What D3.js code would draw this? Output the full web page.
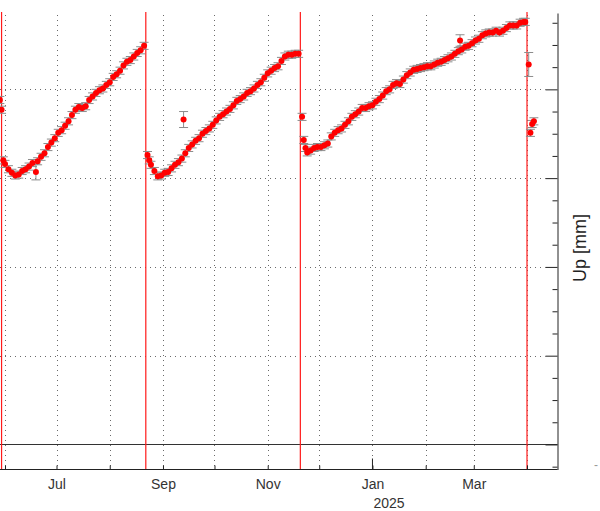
<!DOCTYPE html>
<html>
<head>
<meta charset="utf-8">
<script src="https://cdn.jsdelivr.net/npm/d3@7"></script>
<style>
  html, body { margin: 0; padding: 0; background: #fff; }
  svg { display: block; font-family: "Liberation Sans", Arial, Helvetica, sans-serif; }
</style>
</head>
<body>
<svg id="chart" width="600" height="511"></svg>
<script>
// ---------------- DATA ----------------
const seg1Dates = ["2024-05-29","2024-05-30","2024-05-31","2024-06-01","2024-06-03","2024-06-05","2024-06-07","2024-06-09","2024-06-11","2024-06-13","2024-06-15","2024-06-17","2024-06-20","2024-06-22","2024-06-24","2024-06-26","2024-06-28","2024-06-30","2024-07-02","2024-07-04","2024-07-06","2024-07-08","2024-07-10","2024-07-12","2024-07-14","2024-07-16","2024-07-18","2024-07-20","2024-07-22","2024-07-24","2024-07-26","2024-07-28","2024-07-30","2024-08-01","2024-08-03","2024-08-05","2024-08-07","2024-08-09","2024-08-11","2024-08-13","2024-08-15","2024-08-17","2024-08-19","2024-08-21"];
const seg1Up = [38.8,37.7,32.0,31.6,31.0,30.6,30.3,30.4,30.8,31.0,31.3,31.7,31.9,32.4,32.8,33.5,34.0,34.5,35.1,35.4,35.9,36.4,37.1,37.7,38.0,37.9,38.1,38.8,39.2,39.6,39.9,40.1,40.5,40.8,41.4,41.7,42.1,42.7,43.1,43.3,43.7,44.1,44.4,44.9];

const seg2Dates = ["2024-08-23","2024-08-24","2024-08-25","2024-08-27","2024-08-29","2024-08-31","2024-09-02","2024-09-04","2024-09-06","2024-09-08","2024-09-10","2024-09-12","2024-09-14","2024-09-16","2024-09-18","2024-09-20","2024-09-22","2024-09-24","2024-09-26","2024-09-28","2024-09-30","2024-10-02","2024-10-04","2024-10-06","2024-10-08","2024-10-10","2024-10-12","2024-10-14","2024-10-16","2024-10-18","2024-10-20","2024-10-22","2024-10-24","2024-10-26","2024-10-28","2024-10-30","2024-11-01","2024-11-03","2024-11-05","2024-11-07","2024-11-09","2024-11-11","2024-11-13","2024-11-15","2024-11-17","2024-11-19"];
const seg2Up = [32.6,32.0,31.5,30.8,30.2,30.3,30.6,30.7,31.1,31.5,31.8,32.2,32.8,33.4,33.8,34.2,34.5,35.0,35.3,35.6,36.0,36.5,36.9,37.2,37.5,37.8,38.2,38.7,38.9,39.2,39.6,39.8,40.1,40.5,40.8,41.3,41.8,42.1,42.4,42.6,43.2,43.7,43.9,43.9,44.0,44.0];

const seg3Dates = ["2024-11-21","2024-11-22","2024-11-23","2024-11-24","2024-11-26","2024-11-28","2024-11-30","2024-12-02","2024-12-04","2024-12-06","2024-12-08","2024-12-10","2024-12-12","2024-12-14","2024-12-16","2024-12-18","2024-12-20","2024-12-22","2024-12-24","2024-12-26","2024-12-28","2024-12-30","2025-01-01","2025-01-03","2025-01-05","2025-01-07","2025-01-09","2025-01-11","2025-01-13","2025-01-15","2025-01-17","2025-01-19","2025-01-21","2025-01-23","2025-01-25","2025-01-27","2025-01-29","2025-01-31","2025-02-02","2025-02-04","2025-02-06","2025-02-08","2025-02-10","2025-02-12","2025-02-14","2025-02-16","2025-02-18","2025-02-20","2025-02-22","2025-02-24","2025-02-26","2025-02-28","2025-03-02","2025-03-04","2025-03-06","2025-03-08","2025-03-10","2025-03-12","2025-03-14","2025-03-16","2025-03-18","2025-03-20","2025-03-22","2025-03-24","2025-03-26","2025-03-28","2025-03-30","2025-03-31"];
const seg3Up = [36.9,34.3,33.4,32.9,33.1,33.4,33.5,
  33.5,33.7,33.9,34.7,35.1,35.4,35.6,36.0,36.4,36.9,37.2,37.5,37.9,37.9,38.1,
  38.2,38.6,38.9,39.3,39.8,40.0,40.5,40.7,40.6,41.1,41.6,41.9,42.2,42.3,42.4,42.5,
  42.6,42.6,42.8,43.0,43.1,43.3,43.5,43.7,44.0,44.3,44.5,44.8,44.9,45.2,
  45.5,45.7,46.1,46.3,46.4,46.4,46.6,46.4,46.6,46.9,47.2,47.2,47.2,47.5,47.6,47.6];

const seg4Dates = ["2025-04-03","2025-04-04","2025-04-05"];
const seg4Up = [35.1,36.1,36.4];

// points with larger formal errors
const wideDates = ["2024-06-19","2024-09-13","2025-02-21","2025-04-02"];
const wideUp = [30.7,36.6,45.5,42.8];
const wideSigma = [0.9,0.9,0.65,1.35];
const defaultSigma = 0.4;

// equipment / offset epochs (red vertical lines)
const breakDates = ["2024-05-30","2024-08-22","2024-11-20","2025-04-01"];

// axis ticks
const monthTicks = ["2024-06-01","2024-07-01","2024-08-01","2024-09-01","2024-10-01","2024-11-01","2024-12-01","2025-01-01","2025-02-01","2025-03-01","2025-04-01"];
const labelledMonths = ["Jul","Sep","Nov","Jan","Mar"];
const yearLabel = "2025";
const yearTick = "2025-01-01";
const yMajor = [0,10,20,30,40];
const yMinor = [-2.5,2.5,5,7.5,12.5,15,17.5,22.5,25,27.5,32.5,35,37.5,42.5,45,47.5];
const yTitle = "Up [mm]";

// ---------------- CHART ----------------
const parse = d3.utcParse("%Y-%m-%d");
const svg = d3.select("#chart");
const W = 600, H = 511;
const plotTop = 13, plotBottom = 469.5, plotRight = 557.5, plotLeft = -10;

const x = d3.scaleUtc()
  .domain([parse("2024-06-01"), parse("2025-04-01")])
  .range([5, 527]);
const y = d3.scaleLinear()
  .domain([-2.82, 48.6])
  .range([plotBottom, plotTop]);

svg.append("rect").attr("width", W).attr("height", H).attr("fill", "#fff");

const gridColor = "#6a6a6a";
// vertical dotted grid
svg.append("g").selectAll("line").data(monthTicks.map(parse)).join("line")
  .attr("x1", d => Math.round(x(d)) + 0.5).attr("x2", d => Math.round(x(d)) + 0.5)
  .attr("y1", plotTop + 2).attr("y2", plotBottom)
  .attr("stroke", gridColor).attr("stroke-width", 1).attr("stroke-dasharray", "1,4");
// horizontal dotted grid
svg.append("g").selectAll("line").data(yMajor.filter(v => v !== 0)).join("line")
  .attr("x1", plotLeft).attr("x2", plotRight - 12)
  .attr("y1", d => Math.round(y(d)) + 0.5).attr("y2", d => Math.round(y(d)) + 0.5)
  .attr("stroke", gridColor).attr("stroke-width", 1).attr("stroke-dasharray", "1,4");
// zero line
svg.append("line")
  .attr("x1", plotLeft).attr("x2", plotRight)
  .attr("y1", Math.round(y(0)) + 0.5).attr("y2", Math.round(y(0)) + 0.5)
  .attr("stroke", "#333").attr("stroke-width", 1);

// red break lines
svg.append("g").selectAll("line").data(breakDates.map(parse)).join("line")
  .attr("x1", d => x(d)).attr("x2", d => x(d))
  .attr("y1", plotTop - 1).attr("y2", plotBottom)
  .attr("stroke", "#ff1a1a").attr("stroke-width", 1.2);

// assemble points
const pts = [];
[[seg1Dates, seg1Up], [seg2Dates, seg2Up], [seg3Dates, seg3Up], [seg4Dates, seg4Up]].forEach(([ds, vs]) => {
  ds.forEach((d, i) => pts.push({ t: parse(d), v: vs[i], s: defaultSigma }));
});
wideDates.forEach((d, i) => pts.push({ t: parse(d), v: wideUp[i], s: wideSigma[i] }));

// error bars
const eb = svg.append("g").attr("stroke", "#8c8c8c").attr("stroke-width", 1).attr("fill", "none");
pts.forEach(p => {
  const cx = x(p.t), y1 = y(p.v + p.s), y2 = y(p.v - p.s);
  eb.append("line").attr("x1", cx).attr("x2", cx).attr("y1", y1).attr("y2", y2);
  eb.append("line").attr("x1", cx - 4.5).attr("x2", cx + 4.5).attr("y1", y1).attr("y2", y1);
  eb.append("line").attr("x1", cx - 4.5).attr("x2", cx + 4.5).attr("y1", y2).attr("y2", y2);
});

// dots
svg.append("g").selectAll("circle").data(pts).join("circle")
  .attr("cx", d => x(d.t)).attr("cy", d => y(d.v)).attr("r", 3)
  .attr("fill", "#ff0000");

// bottom axis
const xAxis = d3.axisBottom(x)
  .tickValues(monthTicks.map(parse))
  .tickSizeInner(-4).tickSizeOuter(0).tickPadding(10)
  .tickFormat(d => { const m = d3.utcFormat("%b")(d); return labelledMonths.includes(m) ? m : ""; });
const gx = svg.append("g").attr("transform", `translate(0,${plotBottom})`).call(xAxis);
gx.select(".domain").remove();
gx.selectAll(".tick line").attr("stroke", "#222");
gx.selectAll("text").attr("font-size", 14).attr("fill", "#333")
  .attr("font-family", "'Liberation Sans', Arial, sans-serif");
svg.append("line").attr("x1", plotLeft).attr("x2", plotRight)
  .attr("y1", plotBottom).attr("y2", plotBottom).attr("stroke", "#222").attr("stroke-width", 1);
// longer year tick
svg.append("line")
  .attr("x1", x(parse(yearTick))).attr("x2", x(parse(yearTick)))
  .attr("y1", plotBottom - 11).attr("y2", plotBottom).attr("stroke", "#222");
svg.append("text").attr("x", x(parse(yearTick)) + 1).attr("y", 508)
  .attr("font-size", 14).attr("fill", "#333").text(yearLabel);

// right axis
const yAxisMajor = d3.axisRight(y).tickValues(yMajor).tickSizeInner(-12).tickSizeOuter(0).tickFormat("");
const gy = svg.append("g").attr("transform", `translate(${plotRight},0)`).call(yAxisMajor);
gy.select(".domain").attr("stroke", "#222");
gy.selectAll(".tick line").attr("stroke", "#222");
const yAxisMinor = d3.axisRight(y).tickValues(yMinor).tickSizeInner(-5).tickSizeOuter(0).tickFormat("");
const gy2 = svg.append("g").attr("transform", `translate(${plotRight},0)`).call(yAxisMinor);
gy2.select(".domain").remove();
gy2.selectAll(".tick line").attr("stroke", "#222");

// y title
svg.append("text")
  .attr("transform", "translate(580,248) rotate(-90)")
  .attr("text-anchor", "middle").attr("dominant-baseline", "central")
  .attr("font-size", 18).attr("fill", "#222").text(yTitle);

// clipped tick-label fragment at far right
svg.append("text").attr("x", 594).attr("y", 469).attr("font-size", 12).attr("fill", "#999").text("-");
</script>
</body>
</html>
